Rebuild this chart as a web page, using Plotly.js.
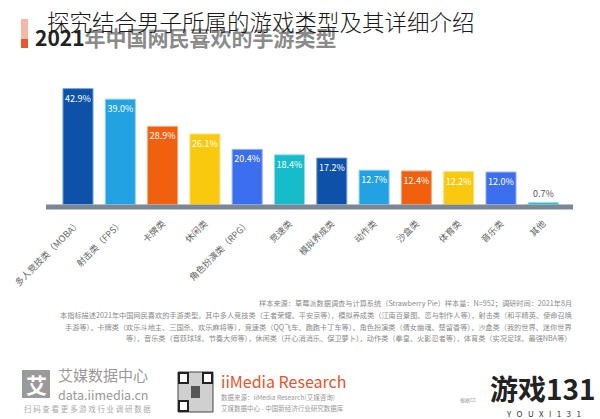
<!DOCTYPE html>
<html><head><meta charset="utf-8">
<script src="https://cdn.plot.ly/plotly-3.0.1.min.js"></script>
<style>html,body{margin:0;padding:0;background:#fff}#c{width:600px;height:419px}</style>
</head><body><div id="c"></div>
<script>
const categories = ["多人竞技类（MOBA）","射击类（FPS）","卡牌类","休闲类","角色扮演类（RPG）","竞速类","模拟养成类","动作类","沙盒类","体育类","音乐类","其他"];
const values = [42.9, 39.0, 28.9, 26.1, 20.4, 18.4, 17.2, 12.7, 12.4, 12.2, 12.0, 0.7];
const barColors = ["#0d52a8","#22a2e2","#f0600f","#f8c90e","#3b6ff0","#16bcc9","#0d52a8","#22a2e2","#f0600f","#f8c90e","#3b6ff0","#16bcc9"];
const edgeColors = ["#6f9fd8","#8fd0f2","#f7a57a","#fbe27a","#93b0f7","#8ee0e8","#6f9fd8","#8fd0f2","#f7a57a","#fbe27a","#93b0f7","#8ee0e8"];
const chartTitle = "探究结合男子所属的游戏类型及其详细介绍";
const subTitle = "2021年中国网民喜欢的手游类型";
const sourceLines = [
 "样本来源：草莓派数据调查与计算系统（Strawberry Pie）样本量：N=952；调研时间：2021年8月",
 "本指标描述2021年中国网民喜欢的手游类型。其中多人竞技类（王者荣耀、平安京等），模拟养成类（江南百景图、恋与制作人等），射击类（和平精英、使命召唤",
 "手游等），卡牌类（欢乐斗地主、三国杀、欢乐麻将等），竞速类（QQ飞车、跑跑卡丁车等），角色扮演类（倩女幽魂、楚留香等），沙盒类（我的世界、迷你世界",
 "等），音乐类（音跃球球、节奏大师等），休闲类（开心消消乐、保卫萝卜），动作类（拳皇、火影忍者等），体育类（实况足球、最强NBA等）"
];

const W=600,H=419;
const px=x=>x/W, py=y=>1-y/H;
const F='"Noto Sans CJK SC", "Noto Sans", sans-serif';

const textPos = values.map(v => v < 5 ? 'outside' : 'inside');
const textCol = values.map(v => v < 5 ? '#555' : '#ffffff');

const trace = {
  type:'bar', x:categories, y:values,
  marker:{color:barColors, line:{color:edgeColors, width:1}},
  width:0.71,
  text: values.map(v=>v.toFixed(1)+'%'),
  textposition:textPos, insidetextanchor:'end', textangle:0,
  textfont:{family:F, size:9, color:textCol},
  outsidetextfont:{family:F, size:9, color:'#555'},
  constraintext:'none', cliponaxis:false,
  hoverinfo:'none'
};

const shapes = [
  {type:'rect', xref:'paper', yref:'paper', x0:px(46), x1:px(573), y0:py(209.5), y1:py(204.5), fillcolor:'#7b8696', line:{width:0}, layer:'above'},
  {type:'rect', xref:'paper', yref:'paper', x0:px(21), x1:px(28), y0:py(39), y1:py(19), fillcolor:'#f5b8a6', line:{width:0}},
  {type:'rect', xref:'paper', yref:'paper', x0:px(21), x1:px(28), y0:py(48), y1:py(39), fillcolor:'#e8572d', line:{width:0}},
  {type:'rect', xref:'paper', yref:'paper', x0:px(22), x1:px(50), y0:py(398), y1:py(370), fillcolor:'#9a9a9a', line:{width:0}},
  {type:'rect', xref:'paper', yref:'paper', x0:px(178), x1:px(213), y0:py(412), y1:py(372), fillcolor:'#d0d0d0', line:{color:'#444',width:1}},
  {type:'rect', xref:'paper', yref:'paper', x0:px(179), x1:px(188), y0:py(383), y1:py(373), fillcolor:'#fff', line:{color:'#222',width:2}},
  {type:'rect', xref:'paper', yref:'paper', x0:px(203), x1:px(212), y0:py(383), y1:py(373), fillcolor:'#fff', line:{color:'#222',width:2}},
  {type:'rect', xref:'paper', yref:'paper', x0:px(179), x1:px(188), y0:py(411), y1:py(401), fillcolor:'#fff', line:{color:'#222',width:2}},
  {type:'rect', xref:'paper', yref:'paper', x0:px(191), x1:px(200), y0:py(398), y1:py(386), fillcolor:'#555', line:{width:0}}
];

const ann = [];
ann.push({xref:'paper',yref:'paper',x:px(33),y:py(37),xanchor:'left',yanchor:'middle',showarrow:false,
  text:'<b><span style="color:#222">2021</span><span style="color:#8a8a8a">年中国网民喜欢的手游类型</span></b>',
  font:{family:F,size:21,color:'#888'}});
ann.push({xref:'paper',yref:'paper',x:px(261),y:py(21),xanchor:'center',yanchor:'middle',showarrow:false,
  text:chartTitle, font:{family:F,size:22.5,color:'#1a1a1a',weight:300}});
const sy=[302.5,315,326.5,338];
sourceLines.forEach((t,i)=>ann.push({xref:'paper',yref:'paper',x:px(574),y:py(sy[i]),xanchor:'right',yanchor:'middle',showarrow:false,
  text:t,font:{family:F,size:7.2,color:'#8a8a8a'}}));
ann.push({xref:'paper',yref:'paper',x:px(36),y:py(384),xanchor:'center',yanchor:'middle',showarrow:false,text:'<b>艾</b>',font:{family:F,size:21,color:'#fff'}});
ann.push({xref:'paper',yref:'paper',x:px(56),y:py(374),xanchor:'left',yanchor:'middle',showarrow:false,text:'艾媒数据中心',font:{family:F,size:15,color:'#999'}});
ann.push({xref:'paper',yref:'paper',x:px(56),y:py(394),xanchor:'left',yanchor:'middle',showarrow:false,text:'data.iimedia.cn',font:{family:F,size:12.5,color:'#999'}});
ann.push({xref:'paper',yref:'paper',x:px(22),y:py(408),xanchor:'left',yanchor:'middle',showarrow:false,text:'扫 码 查 看 更 多 游 戏 行 业 调 研 数 据',font:{family:F,size:7.5,color:'#aaa'}});
ann.push({xref:'paper',yref:'paper',x:px(219),y:py(381),xanchor:'left',yanchor:'middle',showarrow:false,text:'iiMedia Research',font:{family:F,size:16,color:'#e8532a'}});
ann.push({xref:'paper',yref:'paper',x:px(219),y:py(397),xanchor:'left',yanchor:'middle',showarrow:false,text:'数据来源：iiMedia Research(艾媒咨询)',font:{family:F,size:6.5,color:'#999'}});
ann.push({xref:'paper',yref:'paper',x:px(219),y:py(407.5),xanchor:'left',yanchor:'middle',showarrow:false,text:'艾媒数据中心 - 中国新经济行业研究数据库',font:{family:F,size:6.5,color:'#999'}});
ann.push({xref:'paper',yref:'paper',x:px(458),y:py(400),xanchor:'left',yanchor:'middle',showarrow:false,text:'根据CC',font:{family:F,size:5,color:'#999'}});
ann.push({xref:'paper',yref:'paper',x:px(543),y:py(388),xanchor:'center',yanchor:'middle',showarrow:false,text:'<b>游戏131</b>',font:{family:F,size:28,color:'#222'}});
ann.push({xref:'paper',yref:'paper',x:px(543),y:py(413),xanchor:'center',yanchor:'middle',showarrow:false,text:'Y&nbsp;&nbsp;&nbsp;O&nbsp;&nbsp;&nbsp;U&nbsp;&nbsp;&nbsp;X&nbsp;&nbsp;&nbsp;I&nbsp;&nbsp;&nbsp;1&nbsp;&nbsp;&nbsp;3&nbsp;&nbsp;&nbsp;1',font:{family:F,size:8,color:'#333'}});

const layout = {
  width:W, height:H, margin:{l:0,r:0,t:0,b:0},
  paper_bgcolor:'#fff', plot_bgcolor:'rgba(0,0,0,0)',
  showlegend:false,
  xaxis:{domain:[px(56.85),px(564.45)], range:[-0.5,11.5], type:'category',
    tickangle:-45, tickfont:{family:F,size:9,color:'#666'}, showline:false, showgrid:false, zeroline:false,
    ticks:'', ticklabelstandoff:11, fixedrange:true},
  yaxis:{domain:[py(204.5),py(60)], range:[0,53.5], visible:false, showgrid:false, zeroline:false, fixedrange:true},
  bargap:0.29,
  shapes:shapes, annotations:ann
};
Plotly.newPlot('c',[trace],layout,{displayModeBar:false,staticPlot:true});
</script></body></html>
